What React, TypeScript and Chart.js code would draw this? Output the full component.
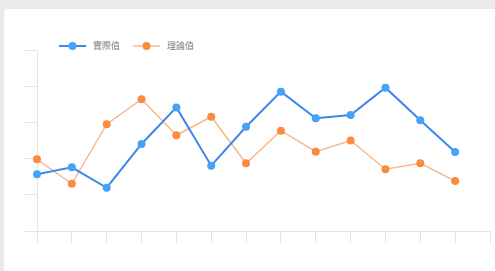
import React, { useEffect, useRef } from "react";
import { Chart, registerables } from "chart.js";

Chart.register(...registerables);

const categories = ["1", "2", "3", "4", "5", "6", "7", "8", "9", "10", "11", "12", "13", "14"];
const actualValues = [31.3, 35.2, 23.9, 48.1, 68.3, 36.1, 57.6, 77.0, 62.3, 64.1, 79.2, 61.2, 43.6];
const theoryValues = [39.6, 26.1, 59.0, 72.8, 52.9, 63.1, 37.4, 55.4, 43.8, 50.0, 34.1, 37.4, 27.6];
const seriesNames = ["實際值", "理論值"];
const yTicks = [0, 20, 40, 60, 80, 100];

const legendPlugin = {
  id: "customLegend",
  afterDraw(chart: any) {
    const ctx = chart.ctx;
    const ca = chart.chartArea;
    const y = ca.top - 4;
    let x = ca.left + 22;
    ctx.save();
    ctx.font = '9px "Noto Sans CJK TC", "Noto Sans", sans-serif';
    ctx.textBaseline = "middle";
    chart.data.datasets.forEach((ds: any, i: number) => {
      ctx.strokeStyle = ds.borderColor;
      ctx.lineWidth = ds.borderWidth;
      ctx.beginPath();
      ctx.moveTo(x, y);
      ctx.lineTo(x + 27, y);
      ctx.stroke();
      ctx.fillStyle = ds.pointBackgroundColor;
      ctx.beginPath();
      ctx.arc(x + 13.5, y, 4, 0, Math.PI * 2);
      ctx.fill();
      ctx.fillStyle = "#777";
      ctx.fillText(ds.label, x + 34, y);
      const w = ctx.measureText(ds.label).width;
      x += 34 + w + 13;
    });
    ctx.restore();
  },
};

export default function App() {
  const ref = useRef<HTMLCanvasElement>(null);
  useEffect(() => {
    if (!ref.current) return;
    const gridColor = "#e4e4e4";
    const chart = new Chart(ref.current, {
      type: "line",
      data: {
        labels: categories,
        datasets: [
          {
            label: seriesNames[0],
            data: actualValues,
            borderColor: "#3d86ee",
            borderWidth: 2,
            pointBackgroundColor: "#45a2fb",
            pointBorderColor: "#45a2fb",
            pointRadius: 4,
            pointBorderWidth: 0,
            tension: 0,
          },
          {
            label: seriesNames[1],
            data: theoryValues,
            borderColor: "#f8b88e",
            borderWidth: 1.5,
            pointBackgroundColor: "#fb8b3e",
            pointBorderColor: "#fb8b3e",
            pointRadius: 4,
            pointBorderWidth: 0,
            tension: 0,
          },
        ],
      },
      options: {
        responsive: false,
        animation: false,
        layout: { padding: { left: 25, top: 50, right: 5, bottom: 28 } },
        plugins: { legend: { display: false }, tooltip: { enabled: false } },
        scales: {
          x: {
            type: "category",
            offset: false,
            ticks: { display: false },
            grid: { drawOnChartArea: false, drawTicks: true, tickLength: 12, color: gridColor },
            border: { color: gridColor },
          },
          y: {
            min: yTicks[0],
            max: yTicks[yTicks.length - 1],
            ticks: { display: false, stepSize: yTicks[1] - yTicks[0] },
            grid: { drawOnChartArea: false, drawTicks: true, tickLength: 12, color: gridColor },
            border: { color: gridColor },
          },
        },
      },
      plugins: [legendPlugin],
    });
    return () => chart.destroy();
  }, []);
  return (
    <div style={{ position: "fixed", left: 0, top: 0, width: 495, height: 271, background: "#eaeaea", overflow: "hidden" }}>
      <div style={{ position: "absolute", left: 4, top: 9, width: 520, height: 300, background: "#fff", borderRadius: 4 }} />
      <canvas ref={ref} width={495} height={271} style={{ position: "absolute", left: 0, top: 0, width: 495, height: 271 }} />
    </div>
  );
}
